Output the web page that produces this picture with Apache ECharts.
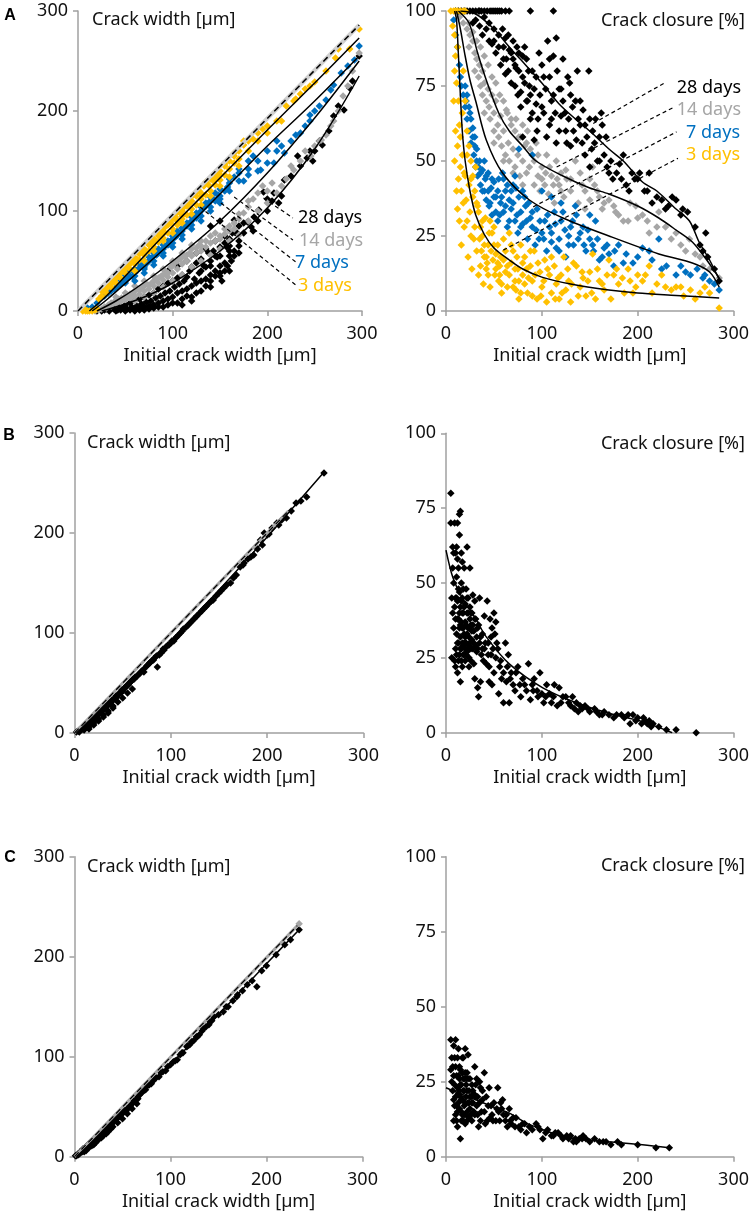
<!DOCTYPE html>
<html><head><meta charset="utf-8">
<script src="https://cdn.jsdelivr.net/npm/echarts@6/dist/echarts.min.js"></script>
<style>html,body{margin:0;padding:0;background:#fff}#c{width:752px;height:1215px}</style>
</head><body><div id="c"></div>
<script>
// ---------- Panel A : crack width after healing ----------
const aW3 = [[5,0],[8,0],[10,0],[12,0],[15,0],[18,1],[20,2],[7,2],[22,12],[25,15],[28,20],[30,22],[32,25],[35,27],[38,30],[40,33],[42,34],[45,38],[48,40],[50,42],[52,45],[55,47],[58,50],[60,53],[62,52],[65,57],[68,60],[70,62],[72,60],[75,66],[78,68],[80,72],[82,70],[85,75],[88,78],[90,80],[92,84],[95,86],[98,88],[100,92],[103,94],[105,90],[108,98],[110,100],[112,104],[115,105],[118,108],[120,110],[122,116],[125,115],[128,120],[130,118],[133,125],[135,128],[138,126],[140,132],[143,130],[145,138],[148,135],[150,140],[155,145],[160,150],[165,155],[170,160],[175,166],[180,170],[185,172],[190,178],[195,182],[200,185],[210,190],[215,190],[230,212],[235,217],[245,225],[250,229],[272,253],[275,262],[297,282],
  [30,18],[35,24],[40,28],[45,33],[50,38],[55,42],[60,47],[65,51],[70,56],[75,60],[80,64],[85,69],[90,73],[95,78],[100,82],[105,86],[110,92],[115,96],[120,102],[125,106],[130,112],[135,116],[140,120],[145,126],[150,131],[155,136],[160,142],[165,148],[170,152],[180,160],[190,170],[200,178],[25,20],[35,31],[45,41],[55,50],[65,60],[75,69],[85,79],[95,89],[105,99],[115,109],[125,119],[135,129],[145,133],[155,147],[165,158],[175,170],[220,205],[228,210],[240,222],[262,240],[287,262],
  [60,40],[70,50],[80,60],[90,70],[100,78],[110,88],[120,97],[130,106],[140,115],[150,125],[160,134],[170,145],[70,58],[90,77],[110,95],[130,115],[150,136]];
const aW7 = [[10,3],[15,4],[20,8],[23,12],[28,15],[32,18],[35,20],[38,22],[41,24],[45,27],[48,30],[50,32],[53,33],[55,35],[58,34],[60,38],[63,41],[65,43],[68,45],[70,44],[73,48],[75,50],[78,52],[80,55],[83,56],[85,58],[88,60],[90,62],[92,65],[95,66],[98,70],[100,72],[103,74],[105,76],[108,78],[110,80],[112,84],[115,85],[118,88],[120,90],[122,94],[125,93],[128,98],[130,100],[133,103],[135,105],[138,108],[140,110],[143,112],[145,110],[148,116],[150,115],[155,120],[158,124],[160,128],[165,134],[170,138],[175,130],[180,142],[185,155],[190,140],[193,141],[200,148],[207,148],[210,160],[215,165],[218,158],[225,170],[235,178],[240,185],[245,196],[250,200],[262,211],[267,221],[278,238],[292,251],[297,265],
  [40,28],[45,31],[50,36],[55,40],[60,42],[65,47],[70,50],[75,54],[80,58],[85,62],[90,66],[95,70],[100,75],[105,80],[110,83],[115,88],[120,94],[125,98],[130,104],[135,108],[140,114],[145,118],[150,122],[160,132],[170,142],[180,150],[60,30],[70,38],[80,46],[90,55],[100,64],[110,72],[120,82],[130,90],[140,100],[150,108],[200,160],[210,170],[230,176],[245,190],[255,205],[270,226],[285,245],
  [50,28],[60,35],[70,42],[80,50],[90,58],[100,68],[110,76],[120,86],[130,95],[140,104],[150,112],[160,120],[170,130],[180,136],[190,150]];
const aW14 = [[18,0],[22,1],[25,2],[28,4],[32,6],[35,8],[38,9],[40,10],[43,12],[46,13],[50,14],[52,16],[55,17],[58,18],[60,20],[62,22],[65,21],[68,24],[70,25],[72,27],[75,26],[78,28],[80,30],[82,32],[85,33],[88,35],[90,36],[92,40],[95,38],[98,44],[100,45],[102,48],[105,50],[108,52],[110,54],[112,55],[115,56],[118,58],[120,62],[125,63],[128,66],[130,65],[135,70],[140,75],[145,78],[150,72],[155,82],[160,80],[165,88],[170,92],[175,98],[180,110],[190,118],[200,120],[210,118],[215,125],[220,132],[228,141],[235,150],[246,155],[250,165],[257,171],[262,176],[267,185],[280,215],[290,240],[297,258],
  [30,3],[35,5],[40,7],[45,9],[50,11],[55,13],[60,15],[65,17],[70,20],[75,22],[80,25],[85,28],[90,31],[95,34],[100,38],[105,42],[110,47],[115,50],[120,55],[125,58],[130,60],[135,64],[140,68],[145,70],[150,75],[155,77],[160,85],[165,82],[170,97],[180,104],[185,112],[195,125],[205,128],[225,145],[240,160],[255,170],[270,190],[275,200],[285,225],[40,14],[50,18],[60,25],[70,30],[80,35],[90,42],[100,50],[110,58],[120,66],[130,70],
  [60,10],[70,14],[80,18],[90,24],[100,30],[110,36],[120,44],[130,50],[140,56],[150,62],[160,70],[170,76],[180,90],[190,100],[200,108]];
const aW28 = [[20,0],[25,0],[28,1],[30,2],[33,0],[35,3],[38,2],[40,4],[42,1],[45,5],[48,3],[50,6],[52,2],[55,8],[57,4],[60,10],[62,5],[65,12],[67,7],[70,14],[72,9],[75,16],[77,10],[80,18],[82,13],[85,22],[87,15],[90,25],[92,18],[95,28],[97,20],[100,30],[102,24],[105,33],[107,27],[110,36],[110,6],[112,30],[115,34],[118,40],[120,44],[123,32],[125,48],[128,38],[130,52],[133,45],[135,44],[138,58],[140,50],[143,60],[145,55],[147,54],[150,64],[152,30],[155,68],[157,64],[160,72],[163,78],[165,91],[168,78],[170,85],[175,88],[179,89],[183,84],[186,94],[191,101],[196,119],[200,112],[207,118],[212,108],[218,131],[232,155],[242,153],[248,150],[250,160],[258,166],[281,201],[287,223],[297,255],
  [40,0],[45,1],[50,0],[55,1],[60,2],[65,3],[70,4],[75,5],[80,6],[85,8],[90,10],[95,12],[100,14],[105,18],[110,20],[115,22],[120,25],[125,28],[130,30],[135,32],[140,36],[145,40],[150,45],[155,48],[160,55],[165,60],[170,65],[60,0],[70,1],[80,3],[90,4],[100,8],[120,14],[130,20],[140,24],[150,35],[160,40],[95,40],[105,45],[115,50],[125,58],[135,62],[145,70],[155,75],[175,78],[185,80],[140,85],[150,90],[160,60],[170,70],[190,90],[200,100],[205,110],[215,115],[225,135],[235,145],[245,160],[255,170],[265,180],[270,195],[275,205],[290,230],
  [120,10],[125,18],[135,25],[140,30],[145,35],[150,38],[155,40],[158,45],[162,50],[165,55],[170,58],[130,40],[140,45],[150,55],[160,65],[110,12],[115,15],[105,8],[95,6],[85,4],[75,2],[65,1]];
const aWref = [[0,0],[297,286]];
const aWfit3 = [[12,0],[30,15],[60,45],[100,85],[150,133],[200,181],[250,228],[297,273]];
const aWfit7 = [[15,0],[30,11],[60,36],[100,70],[150,117],[200,165],[250,210],[297,255]];
const aWfit14 = [[20,0],[40,10],[60,22],[100,50],[150,90],[200,138],[250,193],[297,250]];
const aWfit28 = [[25,0],[50,7],[75,16],[100,28],[150,60],[200,103],[250,162],[297,235]];
const aWlead28 = [[196,113],[227,93]];
const aWlead14 = [[165,114],[227,71]];
const aWlead7 = [[151,108],[230,49]];
const aWlead3 = [[129,104],[230,26]];

// ---------- Panel A : crack closure ----------
const aC3 = [[5,100],[8,100],[10,100],[12,100],[15,100],[18,100],[20,100],[7,95],[9,92],[10,85],[12,88],[11,76],[13,70],[10,60],[14,62],[12,55],[15,48],[17,52],[13,44],[16,40],[18,36],[20,45],[21,37],[22,30],[24,42],[25,33],[26,25],[28,38],[30,28],[31,48],[32,20],[33,35],[35,24],[36,15],[38,30],[40,22],[41,31],[42,18],[44,12],[45,26],[47,20],[49,17],[50,28],[52,14],[54,22],[55,10],[57,18],[60,24],[62,13],[64,8],[66,26],[68,16],[70,20],[72,10],[73,7],[75,14],[76,4],[78,22],[80,12],[82,18],[85,6],[88,15],[90,10],[92,20],[95,4],[98,13],[100,8],[103,17],[105,3],[108,12],[110,6],[113,15],[115,9],[118,4],[120,12],[123,18],[125,7],[128,10],[130,3],[133,16],[136,15],[140,8],[143,11],[146,5],[150,13],[153,19],[156,4],[160,10],[165,7],[170,17],[175,12],[180,9],[184,11],[190,14],[195,6],[200,12],[205,10],[212,15],[220,9],[229,8],[235,7],[240,8],[248,5],[255,7],[265,6],[275,6],[285,1],[14,30],[16,22],[19,28],[23,18],[27,14],[29,24],[34,12],[37,20],[39,9],[43,16],[46,8],[51,12],[56,15],[58,6],[11,40],[12,34],[15,58],[17,66],[19,46],[22,52],[26,44],[9,50],[8,70],[9,80],
  [18,80],[20,70],[22,60],[24,55],[26,50],[28,45],[30,40],[32,36],[34,33],[36,28],[38,25],[40,18],[42,14],[44,22],[46,30],[48,26],[50,22],[52,19],[54,16],[56,12],[58,9],[60,17],[62,20],[64,15],[66,12],[68,22],[70,8],[72,14],[74,18],[76,10],[78,6],[80,16],[82,9],[84,14],[86,11],[88,20],[90,5],[93,12],[96,16],[99,5],[102,10],[106,14],[110,18],[114,4],[117,11],[121,6],[127,14],[131,9],[138,5],[142,13],[148,10],[152,6],[158,14],[163,9],[168,12],[172,4],[178,14],[186,6],[192,10],[198,8],[208,12],[215,6],[225,12],[245,8],[260,4],[270,8]];
const aC7 = [[8,97],[10,92],[12,88],[14,82],[15,78],[16,75],[18,72],[20,68],[21,70],[22,64],[24,60],[25,66],[26,56],[28,61],[29,52],[30,58],[31,48],[32,54],[33,45],[35,50],[36,42],[38,47],[40,40],[41,44],[42,37],[44,46],[45,35],[47,41],[48,32],[50,43],[52,38],[54,30],[55,44],[57,36],[59,46],[60,33],[62,40],[64,28],[66,37],[68,34],[70,42],[72,30],[73,41],[75,26],[76,54],[78,33],[80,29],[82,38],[83,35],[85,24],[88,31],[90,52],[90,28],[93,22],[95,34],[97,24],[100,26],[103,30],[105,20],[108,28],[110,23],[113,33],[115,21],[118,24],[120,30],[122,33],[125,18],[128,25],[130,28],[133,22],[136,32],[140,26],[143,28],[146,20],[150,24],[153,22],[156,30],[160,17],[165,21],[170,19],[175,15],[180,22],[188,19],[195,16],[205,21],[212,20],[222,24],[230,15],[240,12],[250,13],[262,14],[268,11],[275,10],[285,7],
  [20,75],[22,72],[24,68],[26,64],[28,58],[30,55],[32,50],[34,48],[36,46],[38,40],[40,50],[42,45],[44,40],[46,36],[48,44],[50,38],[52,33],[54,40],[56,32],[58,38],[60,44],[62,35],[64,42],[66,30],[68,40],[70,36],[72,45],[74,32],[76,38],[78,28],[80,40],[84,30],[86,36],[90,33],[94,27],[98,30],[102,24],[106,32],[110,26],[114,29],[118,20],[124,27],[128,22],[132,30],[138,24],[144,22],[148,27],[154,20],[158,24],[163,18],[168,22],[176,20],[185,16],[200,18],[215,17],[225,14],[245,15],[255,12],[270,12],[280,9],[100,40],[110,38],[120,36],[135,35],[150,32]];
const aC14 = [[10,100],[14,98],[18,96],[20,100],[22,94],[25,92],[28,90],[24,88],[30,86],[32,84],[30,80],[34,78],[35,82],[36,75],[38,80],[38,72],[40,76],[42,70],[44,74],[45,68],[46,64],[48,72],[50,66],[50,60],[52,70],[54,62],[55,58],[57,65],[58,55],[60,60],[62,52],[63,67],[65,56],[66,50],[68,62],[70,54],[72,48],[73,64],[75,52],[77,45],[78,58],[80,50],[82,55],[84,46],[85,60],[87,48],[90,52],[92,42],[94,56],[96,45],[98,40],[100,48],[103,42],[105,52],[107,39],[110,45],[113,36],[115,50],[118,42],[120,46],[123,38],[126,44],[130,40],[135,50],[136,70],[138,36],[142,42],[145,34],[150,37],[153,48],[158,40],[163,34],[170,37],[177,33],[185,30],[192,36],[198,35],[205,32],[212,26],[222,33],[229,28],[240,26],[245,22],[254,24],[260,19],[268,15],[275,14],[285,11],
  [24,96],[28,93],[32,90],[36,88],[40,85],[44,82],[48,78],[52,76],[56,72],[60,70],[64,66],[68,64],[72,60],[76,58],[80,62],[84,56],[88,54],[92,50],[96,52],[100,44],[104,46],[108,48],[112,42],[116,44],[120,40],[125,47],[130,44],[140,46],[145,40],[150,44],[155,42],[160,38],[165,36],[175,35],[180,32],[190,30],[200,31],[210,30],[220,28],[235,24],[250,20],[265,18],[40,66],[50,56],[60,50],[70,46],[80,42]];
const aC28 = [[10,100],[13,100],[16,100],[19,100],[22,100],[25,100],[28,100],[31,100],[34,100],[37,100],[40,100],[43,100],[46,100],[50,100],[54,100],[58,100],[66,100],[88,100],[112,100],[28,96],[31,97],[35,95],[38,92],[40,98],[42,94],[45,90],[48,89],[50,94],[52,86],[55,92],[57,82],[59,94],[60,88],[62,79],[63,84],[65,92],[66,87],[68,76],[70,90],[72,82],[73,81],[75,72],[76,86],[78,68],[80,58],[80,78],[82,88],[84,84],[85,70],[87,75],[88,64],[90,80],[92,57],[94,69],[95,60],[97,86],[100,82],[102,66],[104,74],[106,90],[108,78],[108,62],[110,70],[112,85],[115,56],[115,91],[118,74],[120,65],[122,84],[125,60],[127,78],[129,76],[130,55],[132,68],[135,70],[137,80],[140,62],[143,67],[145,52],[149,80],[150,48],[153,60],[156,64],[160,50],[163,62],[167,58],[170,46],[174,44],[181,49],[185,52],[191,40],[197,44],[202,46],[207,40],[212,46],[220,38],[229,34],[236,38],[240,37],[247,34],[252,33],[265,22],[271,26],[273,18],[285,10],
  [35,100],[48,100],[52,100],[56,100],[62,100],[45,96],[50,90],[55,88],[60,84],[62,91],[65,80],[68,86],[70,84],[72,75],[74,88],[76,80],[78,73],[80,85],[82,76],[84,70],[86,80],[88,72],[90,66],[92,74],[94,78],[96,64],[98,72],[100,68],[102,78],[105,58],[108,84],[110,64],[112,72],[114,66],[116,80],[118,60],[120,74],[122,70],[124,66],[126,56],[128,64],[130,72],[133,60],[136,57],[138,64],[140,70],[142,56],[145,62],[147,58],[150,64],[152,54],[155,56],[158,50],[160,58],[162,66],[165,52],[168,48],[172,50],[178,46],[183,44],[188,42],[194,46],[200,44],[210,40],[215,36],[225,37],[232,35],[245,32],[260,28],[268,20],[280,14]];
const aCfit3 = [[9,100],[11,97],[13,85],[15,72],[17,60],[20,50],[25,40],[31,32],[40,25.5],[50,21],[66,17],[80,14],[100,11.3],[130,9],[170,7],[200,6],[240,5.2],[285,4.3]];
const aCfit7 = [[11,100],[15,94],[20,85],[25,77],[31,70],[42,57],[59,46],[87,37],[122,31],[170,25],[222,19],[257,16],[275,13],[285,8]];
const aCfit14 = [[13,100],[24,96],[33,86],[42,77],[55,66],[66,60],[80,55],[94,50],[122,45],[150,41],[170,39],[200,35],[222,31],[240,27],[257,23],[272,17],[285,11]];
const aCfit28 = [[15,100],[31,99],[50,94],[66,88],[83,82],[100,76],[118,69],[135,64],[150,60],[170,54],[185,50],[205,43],[220,40],[240,34],[254,30],[264,23],[275,17],[285,10.5]];
const aClead28 = [[153.6,62.5],[228.4,76.1]];
const aClead14 = [[115.4,48],[238.8,68.1]];
const aClead7 = [[91,34.7],[240.5,59.7]];
const aClead3 = [[59.8,20.3],[242,50.9]];

// ---------- Panel B ----------
const bW = [[2,1],[4,2],[5,1],[6,3],[8,4],[9,6],[10,5],[11,7],[12,6],[13,9],[14,8],[15,10],[16,12],[17,11],[18,13],[19,12],[20,15],[21,14],[22,17],[23,16],[24,18],[25,19],[26,20],[27,21],[28,23],[29,22],[30,24],[31,26],[32,25],[34,27],[35,29],[36,30],[38,31],[40,33],[42,35],[44,36],[46,39],[48,40],[50,42],[52,45],[54,47],[56,48],[58,51],[60,53],[62,54],[65,57],[68,60],[70,62],[72,61],[75,67],[78,70],[80,72],[83,75],[86,66],[88,78],[90,80],[92,84],[95,86],[98,88],[100,90],[103,92],[106,96],[110,100],[113,104],[116,106],[120,110],[124,114],[127,117],[130,120],[134,124],[137,127],[140,130],[144,133],[150,140],[155,145],[162,150],[165,155],[172,166],[176,170],[180,174],[186,178],[190,184],[193,193],[197,200],[200,198],[205,205],[210,210],[215,213],[220,215],[230,230],[241,236],[259,260],
  [5,3],[7,4],[9,5],[11,8],[13,10],[15,11],[17,13],[19,15],[21,16],[23,18],[25,20],[27,22],[29,24],[31,25],[33,27],[35,28],[37,30],[39,33],[41,34],[43,37],[45,38],[47,40],[49,43],[51,44],[53,46],[55,48],[57,50],[59,52],[61,54],[63,56],[66,58],[69,61],[72,64],[76,68],[79,71],[82,73],[85,77],[89,80],[93,83],[97,88],[101,92],[105,95],[108,98],[112,102],[118,108],[122,112],[126,116],[132,122],[136,126],[142,132],[147,137],[152,142],[158,148],[168,158],[175,168],[183,176],[195,188],[202,199],[212,208],[225,222],[235,232],
  [10,3],[15,6],[20,10],[25,14],[30,18],[35,22],[40,27],[45,31],[50,35],[55,40],[60,44],[15,4],[20,8],[25,12],[30,16],[35,20],[40,25]];
const bWref = [[0,0],[222,222]];
const bWfit = [[2,0],[50,44],[100,92],[150,143],[200,196],[260,262]];
const bC = [[5,80],[5,70],[7,62],[8,60],[9,70],[10,60],[11,62],[12,70],[12,58],[14,73],[14,66],[15,74],[16,60],[17,57],[13,55],[11,52],[8,50],[7,40],[6,25],[9,24],[10,28],[10,45],[11,33],[12,44],[12,20],[13,38],[13,30],[14,26],[14,47],[15,17],[15,42],[15,32],[16,37],[16,28],[16,50],[17,22],[17,45],[17,35],[18,29],[18,48],[18,40],[19,26],[19,33],[19,55],[20,24],[20,43],[20,37],[21,30],[21,48],[22,62],[22,27],[22,40],[23,35],[23,45],[24,22],[24,32],[24,29],[25,42],[25,38],[25,55],[26,24],[26,36],[27,40],[27,31],[28,46],[28,28],[29,23],[29,34],[30,44],[30,18],[31,38],[31,29],[32,27],[33,35],[33,15],[34,12],[35,30],[35,45],[36,17],[37,26],[38,33],[40,28],[40,39],[42,23],[43,44],[44,30],[45,22],[45,17],[46,38],[47,26],[48,35],[48,16],[50,40],[50,20],[51,33],[52,37],[52,25],[54,28],[55,13],[56,22],[58,18],[60,10],[62,30],[63,17],[65,26],[66,10],[68,20],[70,16],[72,14],[75,22],[78,12],[80,18],[84,14],[86,23],[88,11],[90,16],[92,18],[95,14],[98,20],[100,13],[102,10],[105,16],[108,13],[110,10],[113,16],[116,9],[118,15],[122,12],[128,10],[132,12],[134,8],[138,7],[142,8],[145,9],[150,7],[155,8],[160,6],[165,7],[170,6],[178,6],[186,5],[192,3],[195,6],[200,5],[204,3],[208,4],[212,4],[216,3],[222,2],[230,1],[240,1],[261,0],
  [6,45],[7,55],[8,35],[9,42],[10,22],[10,38],[11,26],[11,45],[12,30],[12,38],[13,24],[13,48],[14,35],[14,40],[15,28],[15,36],[16,24],[16,44],[17,30],[17,40],[18,26],[18,35],[19,30],[19,42],[20,28],[20,32],[21,36],[21,26],[22,33],[22,45],[23,28],[23,40],[24,35],[24,25],[25,30],[26,28],[26,40],[27,34],[28,36],[29,30],[30,38],[32,32],[33,28],[34,36],[36,32],[38,28],[39,24],[41,30],[44,26],[47,32],[49,28],[53,30],[57,24],[60,20],[64,22],[67,18],[73,20],[77,16],[82,16],[91,14],[96,12],[104,12],[112,12],[120,10],[125,12],[130,9],[136,10],[140,9],[148,8],[157,7],[163,6],[175,5],[183,6],[190,6],[198,4],[206,5],[210,3],[214,2]];
const bCfit = [[0,61],[7,52],[17,45],[31,38],[42,32],[66,23],[101,15],[136,10],[170,6.5],[205,3.7],[236,0]];

// ---------- Panel C ----------
const cW = [[1,1],[3,2],[4,3],[5,3],[6,5],[7,5],[8,6],[9,8],[10,8],[11,9],[12,10],[13,11],[14,12],[15,13],[16,14],[17,15],[18,15],[19,16],[20,17],[21,18],[22,19],[23,20],[24,20],[25,21],[26,23],[27,23],[28,24],[29,25],[30,26],[31,27],[32,28],[34,29],[35,30],[36,32],[38,33],[40,35],[42,36],[44,38],[46,40],[48,41],[50,44],[52,45],[54,46],[56,49],[58,51],[60,53],[62,55],[64,57],[66,60],[68,62],[72,66],[75,70],[80,73],[85,79],[90,84],[95,86],[100,92],[103,95],[107,97],[110,102],[113,104],[117,110],[120,112],[124,116],[127,120],[130,122],[134,128],[137,130],[141,135],[145,140],[155,145],[160,150],[165,156],[169,160],[180,172],[190,170],[200,191],[219,212],[234,227],
  [2,1],[4,2],[6,4],[8,5],[10,7],[12,9],[14,11],[16,13],[18,14],[20,16],[22,18],[24,19],[26,21],[28,22],[30,25],[32,27],[34,28],[36,30],[38,32],[40,34],[42,37],[45,39],[48,42],[52,46],[55,48],[58,50],[62,56],[66,58],[70,64],[74,67],[78,72],[82,76],[88,80],[92,85],[97,90],[105,96],[112,104],[118,111],[122,115],[128,120],[133,126],[140,132],[143,136],[150,142],[158,150],[170,162],[175,166],[185,176],[195,186],[210,202],[225,217],
  [10,5],[15,9],[20,12],[25,17],[30,21],[35,25],[40,30],[45,34],[50,38],[55,43],[60,48],[65,53],[12,6],[18,11],[22,14],[28,19],[33,23],[38,28]];
const cWref = [[0,0],[234,233]];
const cWrefEnd = [[234,233]];
const cWfit = [[2,0],[50,44],[100,92],[150,142],[200,193],[234,227]];
const cC = [[5,39],[8,37],[10,39],[12,33],[14,30],[5,29],[6,25],[7,22],[8,19],[9,17],[10,14],[11,12],[12,10],[13,27],[13,21],[14,16],[15,6],[15,24],[16,19],[16,12],[17,28],[17,14],[18,33],[18,22],[19,17],[19,26],[20,11],[20,36],[21,20],[21,24],[22,15],[22,28],[23,34],[23,18],[24,13],[24,22],[25,26],[25,16],[26,20],[27,12],[27,24],[28,18],[29,21],[30,14],[30,30],[31,24],[32,17],[33,20],[34,10],[35,25],[36,23],[37,15],[38,19],[40,28],[41,11],[42,20],[44,17],[45,23],[46,13],[48,14],[50,18],[52,12],[54,23],[55,15],[57,18],[59,19],[60,14],[62,12],[64,10],[66,16],[68,11],[70,13],[73,13],[76,10],[80,11],[84,8],[90,9],[94,11],[98,9],[101,6],[106,9],[110,7],[114,8],[117,8],[122,6],[126,7],[130,7],[133,5],[136,5],[139,6],[143,7],[146,6],[155,6],[160,5],[167,5],[172,4],[179,5],[183,4],[200,4],[219,3],[233,3],
  [6,33],[7,30],[8,27],[8,12],[9,24],[9,33],[10,20],[10,30],[11,17],[11,27],[12,15],[12,23],[13,18],[13,36],[14,22],[14,26],[15,20],[15,29],[16,15],[16,24],[17,19],[17,33],[18,12],[18,26],[19,14],[19,22],[20,18],[20,28],[21,14],[21,26],[22,22],[22,12],[23,26],[24,18],[25,20],[26,14],[27,18],[28,22],[29,15],[31,20],[32,26],[33,14],[35,18],[36,12],[38,22],[40,15],[43,12],[47,17],[49,12],[53,16],[56,12],[58,16],[63,14],[67,12],[72,10],[78,9],[82,11],[87,10],[96,10],[104,8],[112,7],[120,7],[128,6],[135,6],[142,6],[150,5],[164,5]];
const cCfit = [[0,23],[15,21],[31,19],[50,16.5],[66,14.5],[85,11],[101,9],[120,7],[136,6],[170,5],[205,4],[233,3]];

// ---------- labels ----------
const dayLabels = ['28 days','14 days','7 days','3 days'];
const panelLetters = ['A','B','C'];
const widthTitle = 'Crack width [µm]';
const closureTitle = 'Crack closure [%]';
const xTitle = 'Initial crack width [µm]';

// ---------- styles ----------
const FONT = '"Noto Sans", sans-serif';
const YEL = '#FFC000', BLU = '#0070C0', GRY = '#A6A6A6', BLK = '#000000';
const AX = '#A0A0A0';

const grids = [
  {left:78, top:11, width:284, height:300},
  {left:446, top:11, width:288, height:300},
  {left:74.5, top:433, width:289, height:300},
  {left:446, top:433.3, width:288, height:299.4},
  {left:74.5, top:856.7, width:288, height:300},
  {left:446, top:856.7, width:288, height:300}
];

function xAx(i){
  return {gridIndex:i, type:'value', min:0, max:300, interval:100,
    name:xTitle, nameLocation:'middle', nameGap:45,
    nameTextStyle:{fontFamily:FONT, fontSize:18, color:'#111', verticalAlign:'middle'},
    axisLine:{show:true, onZero:false, lineStyle:{color:AX, width:1.5}},
    axisTick:{show:true, length:5, lineStyle:{color:AX, width:1.5}},
    axisLabel:{fontFamily:FONT, fontSize:18, color:'#111', margin:14},
    splitLine:{show:false}};
}
function yAx(i, max, interval){
  return {gridIndex:i, type:'value', min:0, max:max, interval:interval,
    axisLine:{show:true, onZero:false, lineStyle:{color:AX, width:1.5}},
    axisTick:{show:true, length:5, lineStyle:{color:AX, width:1.5}},
    axisLabel:{fontFamily:FONT, fontSize:18, color:'#111', margin:10},
    splitLine:{show:false}};
}

function sc(i, data, color, z){
  return {type:'scatter', xAxisIndex:i, yAxisIndex:i, data:data, symbol:'diamond', symbolSize:7.5,
    itemStyle:{color:color, opacity:1}, z:z||2, silent:true, large:false};
}
function ln(i, data, opts){
  opts = opts || {};
  return {type:'line', xAxisIndex:i, yAxisIndex:i, data:data, showSymbol:false, symbol:'none',
    smooth: opts.smooth === undefined ? 0.35 : opts.smooth,
    lineStyle:{color:opts.color||BLK, width:opts.width||1.5, type:opts.type||'solid', opacity:1},
    z:opts.z||4, silent:true};
}
const DASH = [6,4];
const LDASH = [4,3];

const series = [
  // A width
  sc(0, aW28, BLK), sc(0, aW14, GRY), sc(0, aW7, BLU), sc(0, aW3, YEL),
  ln(0, aWref, {color:'#D0D0D0', width:4, smooth:false, z:3}),
  ln(0, aWref, {type:DASH, smooth:false, width:1.5}),
  ln(0, aWfit3), ln(0, aWfit7), ln(0, aWfit14), ln(0, aWfit28),
  ln(0, aWlead28, {type:LDASH, width:1.2, smooth:false}),
  ln(0, aWlead14, {type:LDASH, width:1.2, smooth:false}),
  ln(0, aWlead7, {type:LDASH, width:1.2, smooth:false}),
  ln(0, aWlead3, {type:LDASH, width:1.2, smooth:false}),
  // A closure
  sc(1, aC14, GRY), sc(1, aC28, BLK), sc(1, aC7, BLU), sc(1, aC3, YEL),
  ln(1, aCfit3, {smooth:0.3}), ln(1, aCfit7, {smooth:0.3}), ln(1, aCfit14, {smooth:0.3}), ln(1, aCfit28, {smooth:0.3}),
  ln(1, aClead28, {type:LDASH, width:1.2, smooth:false}),
  ln(1, aClead14, {type:LDASH, width:1.2, smooth:false}),
  ln(1, aClead7, {type:LDASH, width:1.2, smooth:false}),
  ln(1, aClead3, {type:LDASH, width:1.2, smooth:false}),
  // B
  sc(2, bW, BLK),
  ln(2, bWref, {color:GRY, width:3, smooth:false, z:3}),
  ln(2, bWref, {type:DASH, width:1.2, smooth:false}),
  ln(2, bWfit),
  sc(3, bC, BLK),
  ln(3, bCfit, {smooth:0.3}),
  // C
  sc(4, cW, BLK),
  ln(4, cWref, {color:GRY, width:3, smooth:false, z:3}),
  ln(4, cWref, {type:DASH, width:1.2, smooth:false}),
  sc(4, cWrefEnd, GRY, 5),
  ln(4, cWfit),
  sc(5, cC, BLK),
  ln(5, cCfit, {smooth:0.3})
];

function txt(text, x, y, align, color, size, weight, family){
  return {type:'text', x:x, y:y, silent:true, z:100,
    style:{text:text, fill:color||'#111', fontSize:size||18, fontWeight:weight||'normal',
      fontFamily:family||FONT, align:align||'left', textAlign:align||'left',
      verticalAlign:'middle', textVerticalAlign:'middle'}};
}

const LETTER_FONT = '"Liberation Sans", Arial, sans-serif';
const graphic = [
  txt(panelLetters[0], 10, 16, 'center', '#000', 16, 'bold', LETTER_FONT),
  txt(panelLetters[1], 9, 436, 'center', '#000', 16, 'bold', LETTER_FONT),
  txt(panelLetters[2], 10, 858, 'center', '#000', 16, 'bold', LETTER_FONT),
  txt(widthTitle, 92, 20, 'left'),
  txt(closureTitle, 745, 21, 'right'),
  txt(widthTitle, 87, 443, 'left'),
  txt(closureTitle, 745, 444, 'right'),
  txt(widthTitle, 87, 866.5, 'left'),
  txt(closureTitle, 745, 866, 'right'),
  txt(dayLabels[0], 298, 218, 'left', BLK),
  txt(dayLabels[1], 299, 240.5, 'left', GRY),
  txt(dayLabels[2], 295, 263, 'left', BLU),
  txt(dayLabels[3], 298, 286, 'left', YEL),
  txt(dayLabels[0], 741, 87.5, 'right', BLK),
  txt(dayLabels[1], 741, 109.5, 'right', GRY),
  txt(dayLabels[2], 740, 132.5, 'right', BLU),
  txt(dayLabels[3], 740, 154.5, 'right', YEL)
];

const chart = echarts.init(document.getElementById('c'), null, {renderer:'canvas'});
chart.setOption({
  animation:false,
  backgroundColor:'#fff',
  grid: grids,
  xAxis: [0,1,2,3,4,5].map(xAx),
  yAxis: [yAx(0,300,100), yAx(1,100,25), yAx(2,300,100), yAx(3,100,25), yAx(4,300,100), yAx(5,100,25)],
  series: series,
  graphic: graphic
});
</script></body></html>
